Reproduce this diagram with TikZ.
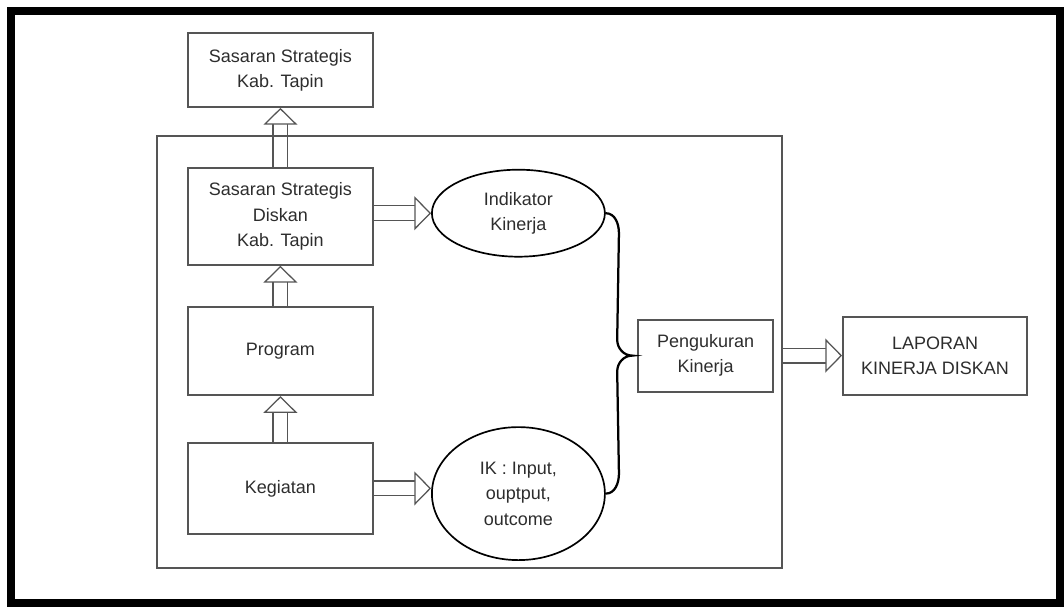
\documentclass[tikz,border=0pt]{standalone}
\usepackage{fontspec}
\setmainfont{Liberation Sans}
\usetikzlibrary{positioning,shapes.geometric,arrows.meta}
\definecolor{boxgray}{RGB}{85,85,85}
\definecolor{textgray}{RGB}{45,45,45}

\begin{document}
\begin{tikzpicture}[rect/.style={draw=boxgray,line width=1.3pt,text=textgray,align=center,minimum width=4.625cm,font=\fontsize{12.8}{18}\selectfont},
	oval/.style={ellipse,draw=black,line width=1.2pt,text=textgray,align=center,minimum width=4.325cm,inner sep=0pt,font=\fontsize{12.8}{18}\selectfont},
	fat/.style={draw=boxgray,double=white,double distance=0.34cm,line width=0.9pt,-{Triangle[fill=white,length=0.42cm,width=0.85cm,line width=0.9pt]}},
	curly/.style={line width=1.6pt,line cap=round,black}]
%		\draw[lightgray] (0,0) grid (26,-15);
		\useasboundingbox (0,0) rectangle (26.6,-15.175);
		\draw[line width=5pt] (0.275,-0.275) rectangle (26.5,-15.075);
		\node[rect,minimum height=1.85cm] (top) at (7.01,-1.75) {Sasaran Strategis\\Kab. Tapin};
		\node[rect,minimum height=2.425cm] (diskan) at (7.01,-5.41) {Sasaran Strategis\\Diskan\\Kab. Tapin};
		\node[rect,minimum height=2.2cm] (program) at (7.01,-8.78) {Program};
		\node[rect,minimum height=2.275cm] (kegiatan) at (7.01,-12.21) {Kegiatan};
		\draw[fat] (diskan) -- (top);
		\node[draw=boxgray,line width=1.3pt,minimum width=15.625cm,minimum height=10.8cm] (frame) at (11.74,-8.8) {};
		\node[oval,minimum height=2.175cm] (indikator) at (12.96,-5.33) {Indikator\\Kinerja};
		\node[oval,minimum height=3.325cm] (ik) at (12.96,-12.34) {IK : Input,\\ouptput,\\outcome};
		\node[rect,minimum width=3.375cm,minimum height=1.8cm] (pengukuran) at (17.64,-8.89) {Pengukuran\\Kinerja};
		\node[rect,minimum width=4.6cm,minimum height=1.95cm] (laporan) at (23.375,-8.89) {LAPORAN\\KINERJA DISKAN};
		\draw[fat] (kegiatan) -- (program);
		\draw[fat] (program) -- (diskan);
		\draw[fat] (diskan.east |- indikator) -- (indikator);
		\draw[fat] (kegiatan.east) -- (kegiatan.east -| ik.west);
		\draw[fat] (frame.east |- pengukuran) -- (laporan);
		%\draw[curly] (indikator.east) -- (pengukuran.west);
		\coordinate (tip) at ([xshift=-0.125cm]pengukuran.west);
		\draw[curly] (indikator.east) to[out=0,in=90] ([xshift=0.33cm,yshift=-0.5cm]indikator.east) -- ([xshift=-0.375cm,yshift=0.4cm]tip) to[out=-90,in=180] (tip) to[out=180,in=90] ([xshift=-0.375cm,yshift=-0.4cm]tip) -- ([xshift=0.33cm,yshift=0.5cm]ik.east) to[out=-90,in=0] (ik.east);
	\end{tikzpicture}
\end{document}
